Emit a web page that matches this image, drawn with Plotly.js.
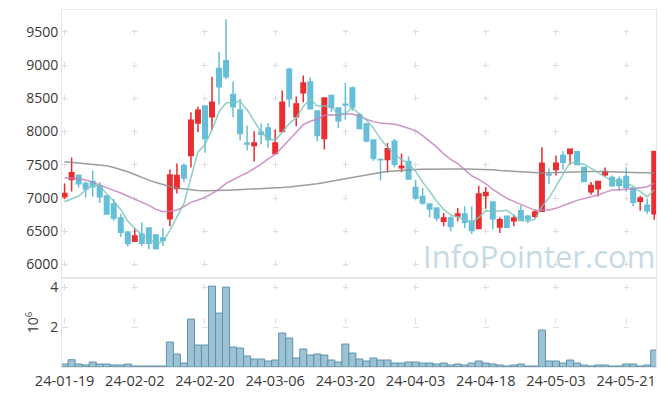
<!DOCTYPE html>
<html><head><meta charset="utf-8">
<script src="https://cdn.plot.ly/plotly-3.0.1.min.js"></script>
<style>html,body{margin:0;padding:0;background:#fff}#chart{width:665px;height:396px}</style>
</head><body><div id="chart"></div>
<script>
const dates = ["24-01-19","24-01-22","24-01-23","24-01-24","24-01-25","24-01-26","24-01-29","24-01-30","24-01-31","24-02-01",
"24-02-02","24-02-05","24-02-06","24-02-07","24-02-08","24-02-13","24-02-14","24-02-15","24-02-16","24-02-19",
"24-02-20","24-02-21","24-02-22","24-02-23","24-02-26","24-02-27","24-02-28","24-02-29","24-03-04","24-03-05",
"24-03-06","24-03-07","24-03-08","24-03-11","24-03-12","24-03-13","24-03-14","24-03-15","24-03-18","24-03-19",
"24-03-20","24-03-21","24-03-22","24-03-25","24-03-26","24-03-27","24-03-28","24-03-29","24-04-01","24-04-02",
"24-04-03","24-04-04","24-04-05","24-04-08","24-04-09","24-04-11","24-04-12","24-04-15","24-04-16","24-04-17",
"24-04-18","24-04-19","24-04-22","24-04-23","24-04-24","24-04-25","24-04-26","24-04-29","24-04-30","24-05-02",
"24-05-03","24-05-07","24-05-08","24-05-09","24-05-10","24-05-13","24-05-14","24-05-16","24-05-17","24-05-20",
"24-05-21","24-05-22","24-05-23","24-05-24","24-05-27"];

const openP = [7020,7280,7340,7220,7250,7190,7030,6910,6700,6490,
6350,6460,6550,6445,6400,6690,7145,7490,7640,8130,
8385,8225,8950,9065,8560,8325,7825,7790,7990,8055,
7670,8000,8940,8225,8585,8745,8310,7895,8545,8355,
8410,8655,8255,8115,7875,7580,7580,7855,7455,7550,
7160,7025,6910,6850,6650,6700,6730,6760,6650,6540,
7040,6940,6565,6725,6660,6810,6725,6725,6800,7355,
7430,7640,7670,7695,7460,7095,7140,7350,7310,7280,
7325,7150,6950,6890,6765];
const highP = [7220,7610,7360,7250,7410,7240,7040,6985,6765,6495,
6550,6635,6555,6450,6545,7430,7520,7520,8290,8375,
8390,8825,9200,9690,8755,8495,8090,8005,8120,8130,
8030,8620,8960,8530,8845,8815,8315,8510,8550,8360,
8735,8680,8280,8130,7880,7600,7830,7890,7670,7625,
7275,7150,6915,6855,6775,6725,6850,6875,6875,7185,
7165,6945,6710,6730,6750,6890,6750,6825,7765,7450,
7640,7705,7735,7700,7475,7240,7260,7460,7340,7325,
7460,7150,7035,6990,7705];
const lowP = [6990,7100,7160,7010,7020,6925,6750,6660,6415,6270,
6340,6280,6230,6225,6280,6575,7070,7240,7460,7990,
7680,8020,8405,8790,8215,7865,7715,7550,7810,7755,
7665,7995,8365,8080,8440,8340,7855,7730,8295,8055,
8180,8315,8040,7840,7560,7265,7385,7460,7390,7285,
6975,6900,6710,6650,6575,6500,6650,6550,6460,6535,
6840,6525,6475,6555,6575,6650,6625,6700,6790,7210,
7340,7425,7500,7500,7240,7050,7025,7325,7170,7110,
7100,6875,6810,6760,6675];
const closeP = [7070,7380,7215,7135,7170,7020,6760,6700,6485,6315,
6430,6320,6320,6240,6360,7345,7340,7300,8170,8320,
7895,8440,8675,8825,8375,7970,7815,7830,7960,7880,
7830,8440,8495,8415,8730,8345,7940,8505,8365,8165,
8400,8370,8045,7860,7600,7575,7740,7510,7480,7285,
7000,6925,6835,6700,6700,6575,6760,6635,6510,7060,
7085,6690,6675,6560,6700,6665,6685,6790,7525,7345,
7525,7540,7735,7505,7250,7190,7250,7400,7185,7190,
7160,6935,7000,6810,7700];

const ma5 = [6945,6985,7030,7120,7195,7185,7060,6955,6825,6655,
6540,6450,6375,6325,6335,6515,6720,6915,7305,7695,
7805,8025,8300,8430,8440,8455,8330,8165,7990,7890,
7865,7990,8120,8210,8380,8485,8385,8385,8375,8265,
8275,8360,8270,8170,8055,7890,7765,7655,7580,7520,
7405,7240,7105,6950,6830,6745,6715,6675,6635,6710,
6810,6795,6805,6815,6740,6660,6655,6680,6875,7000,
7175,7345,7535,7530,7510,7445,7385,7320,7255,7245,
7235,7175,7095,7020,7120];
const ma20 = [7305,7300,7290,7270,7240,7195,7150,7115,7075,7030,
6985,6940,6890,6830,6795,6800,6820,6870,6935,6970,
7010,7065,7135,7220,7280,7330,7380,7440,7510,7590,
7660,7765,7875,7985,8105,8155,8185,8245,8255,8245,
8270,8265,8235,8185,8150,8130,8125,8110,8085,8055,
8015,7940,7855,7770,7665,7580,7520,7425,7335,7280,
7215,7130,7060,6995,6950,6905,6850,6815,6820,6820,
6845,6880,6925,6965,6990,7020,7045,7085,7120,7125,
7130,7140,7155,7170,7220];
const ma60 = [7545,7535,7525,7515,7505,7495,7485,7460,7430,7395,
7355,7310,7270,7235,7200,7175,7150,7135,7120,7112,
7108,7108,7112,7118,7122,7126,7132,7138,7142,7146,
7152,7158,7166,7176,7188,7200,7215,7235,7255,7272,
7290,7305,7325,7345,7365,7385,7400,7410,7420,7425,
7430,7432,7435,7437,7437,7437,7437,7436,7435,7434,
7432,7425,7415,7408,7400,7392,7385,7380,7378,7380,
7385,7390,7395,7398,7400,7401,7401,7400,7398,7395,
7390,7385,7380,7377,7375];

const volumeM = [0.15,0.365,0.15,0.10,0.25,0.15,0.15,0.10,0.10,0.15,
0.05,0.05,0.05,0.05,0.05,1.25,0.65,0.20,2.40,1.10,
1.10,4.05,2.70,4.00,1.00,0.95,0.55,0.40,0.40,0.30,
0.35,1.70,1.45,0.45,0.90,0.60,0.65,0.60,0.35,0.25,
1.15,0.70,0.40,0.30,0.45,0.35,0.35,0.20,0.20,0.25,
0.25,0.20,0.20,0.15,0.20,0.10,0.15,0.10,0.20,0.30,
0.20,0.15,0.10,0.05,0.10,0.15,0.05,0.05,1.85,0.30,
0.30,0.20,0.35,0.20,0.10,0.05,0.10,0.10,0.05,0.05,
0.15,0.15,0.05,0.10,0.85];

const tickDates = ["24-01-19","24-02-02","24-02-20","24-03-06","24-03-20","24-04-03","24-04-18","24-05-03","24-05-21"];
const priceTicks = [6000,6500,7000,7500,8000,8500,9000,9500];
const volTicks = [2,4];

const RED = '#ea2e30', BLUE = '#66bed9';
const GRID = '#dedede', FRAME = '#e6e6e6';
const xRange = [-0.37, 84.25];

const traces = [
  {type:'candlestick', x:dates, open:openP, high:highP, low:lowP, close:closeP,
   xaxis:'x', yaxis:'y', whiskerwidth:0,
   increasing:{line:{color:RED, width:1.5}, fillcolor:RED},
   decreasing:{line:{color:BLUE, width:1.5}, fillcolor:BLUE},
   hoverinfo:'skip'},
  {type:'scatter', mode:'lines', x:dates, y:ma60, xaxis:'x', yaxis:'y',
   line:{color:'rgba(140,140,140,0.85)', width:1.5}, hoverinfo:'skip'},
  {type:'scatter', mode:'lines', x:dates, y:ma20, xaxis:'x', yaxis:'y',
   line:{color:'rgba(196,128,188,0.85)', width:1.5}, hoverinfo:'skip'},
  {type:'scatter', mode:'lines', x:dates, y:ma5, xaxis:'x', yaxis:'y',
   line:{color:'rgba(124,198,188,0.85)', width:1.5}, hoverinfo:'skip'},
  {type:'bar', x:dates, y:volumeM, xaxis:'x2', yaxis:'y2',
   marker:{color:'#9cc2d3', line:{color:'#5f93ad', width:1}}, hoverinfo:'skip'}
];

const layout = {
  width:665, height:396,
  margin:{l:62, r:9, t:10, b:29},
  paper_bgcolor:'#ffffff', plot_bgcolor:'#ffffff',
  showlegend:false, hovermode:false,
  font:{family:'"Open Sans", "Noto Sans", sans-serif', size:14, color:'#444'},
  boxgap:0.25, boxgroupgap:0.15, bargap:0,
  xaxis:{type:'category', domain:[0,1], anchor:'y', range:xRange,
    rangeslider:{visible:false}, tickmode:'array', tickvals:tickDates,
    showticklabels:false, ticks:'', showgrid:true, gridcolor:GRID, gridwidth:1,
    griddash:'0px,18.9px,6px,8.32px',
    showline:true, linecolor:FRAME, mirror:true, zeroline:false, fixedrange:true},
  xaxis2:{type:'category', domain:[0,1], anchor:'y2', range:xRange,
    tickmode:'array', tickvals:tickDates, ticktext:tickDates,
    tickfont:{size:14.6, color:'#3a3a3a'}, ticks:'', showgrid:true, gridcolor:GRID, gridwidth:1,
    griddash:'0px,6px,6px,28px,6px,200px',
    showline:true, linecolor:FRAME, mirror:true, zeroline:false, fixedrange:true},
  yaxis:{domain:[0.249,1], anchor:'x', range:[5795,9830], tickmode:'array', tickvals:priceTicks,
    tickfont:{size:14, color:'#3a3a3a'}, ticks:'', showgrid:true, gridcolor:GRID, gridwidth:1,
    griddash:'5.6px,64.6px',
    showline:true, linecolor:FRAME, mirror:true, zeroline:false, fixedrange:true},
  yaxis2:{domain:[0,0.249], anchor:'x2', range:[0,4.45], tickmode:'array', tickvals:volTicks,
    tickfont:{size:14, color:'#3a3a3a'}, ticks:'', showgrid:true, gridcolor:GRID, gridwidth:1,
    griddash:'5.6px,64.6px',
    title:{text:'10<sup>6</sup>', font:{size:14, color:'#3a3a3a'}, standoff:8},
    showline:true, linecolor:FRAME, mirror:true, zeroline:false, fixedrange:true},
  annotations:[{xref:'paper', yref:'paper', x:0.803, y:0.312, xanchor:'center', yanchor:'middle',
    text:'InfoPointer.com', showarrow:false,
    font:{family:'"Open Sans", sans-serif', size:31, color:'#c6dae6'}}]
};

Plotly.newPlot('chart', traces, layout, {staticPlot:true, displayModeBar:false});
</script>
</body></html>
